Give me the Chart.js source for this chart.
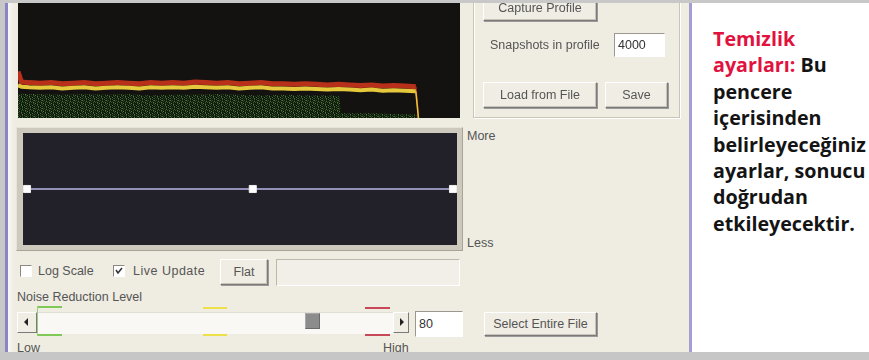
<!DOCTYPE html>
<html><head><meta charset="utf-8">
<script src="https://cdn.jsdelivr.net/npm/chart.js@4/dist/chart.umd.min.js"></script>
<style>
html,body{margin:0;padding:0;}
body{width:869px;height:360px;overflow:hidden;position:relative;background:#fff;font-family:'Liberation Sans',Arial,sans-serif;}
.abs{position:absolute;}
#ui{position:absolute;left:0;top:0;width:690px;height:360px;background:#efece2;filter:blur(0.5px);}
.t{position:absolute;font-size:12.5px;line-height:14px;color:#555;white-space:nowrap;}
.btn{position:absolute;box-sizing:border-box;background:#f0ede4;border:1px solid;border-color:#fff #7a7a7a #7a7a7a #fff;box-shadow:1px 1px 0 #9a9a9a, inset -1px -1px 0 #c8c4b8;font-size:12.5px;color:#555;text-align:center;white-space:nowrap;}
.sunk{position:absolute;box-sizing:border-box;border:1px solid;border-color:#9a9890 #fff #fff #9a9890;background:#fff;}
.cb{position:absolute;width:12px;height:12px;box-sizing:border-box;border:1px solid;border-color:#8a8880 #fff #fff #8a8880;background:#fff;}
#caption{position:absolute;left:713px;top:26px;font-family:'Open Sans',sans-serif;font-weight:700;font-size:19.7px;line-height:26.4px;color:#141414;white-space:nowrap;}
#caption .r{color:#e2123e;}
</style></head>
<body>
<div id="ui">
  <div class="abs" style="left:0;top:0;width:5px;height:360px;background:#c8c8c8"></div>
  <div class="abs" style="left:5px;top:0;width:3px;height:360px;background:#8a86c2"></div>
  <div class="abs" style="left:8px;top:0;width:6px;height:360px;background:linear-gradient(90deg,#f8f8fa,#efece2)"></div>

  <!-- spectrum panel -->
  <div class="abs" style="left:18px;top:2px;width:442px;height:116px;background:#141210"></div>
  <canvas id="spec" class="abs" width="442" height="116" style="left:18px;top:2px;width:442px;height:116px"></canvas>

  <!-- curve panel -->
  <div class="abs" style="left:16px;top:127px;width:447px;height:124px;box-sizing:border-box;background:#cdc9bc;border:1px solid;border-color:#e6e3da #a8a498 #a8a498 #e6e3da"></div>
  <div class="abs" style="left:23px;top:133px;width:434px;height:112px;background:#222028"></div>
  <canvas id="curve" class="abs" width="434" height="112" style="left:23px;top:133px;width:434px;height:112px"></canvas>
  <div class="t" style="left:467px;top:129px">More</div>
  <div class="t" style="left:467px;top:236px">Less</div>

  <!-- group box -->
  <div class="abs" style="left:473px;top:-10px;width:207px;height:128px;box-sizing:border-box;border:1px solid #c9c5b8;box-shadow:1px 1px 0 #fff, inset 1px 1px 0 #fff"></div>
  <div class="btn" style="left:483px;top:-4px;width:114px;height:25px;line-height:23px">Capture Profile</div>
  <div class="t" style="left:490px;top:38px">Snapshots in profile</div>
  <div class="sunk" style="left:614px;top:33px;width:51px;height:24px"></div>
  <div class="t" style="left:618px;top:38px;color:#333">4000</div>
  <div class="btn" style="left:483px;top:82px;width:114px;height:26px;line-height:24px">Load from File</div>
  <div class="btn" style="left:605px;top:82px;width:63px;height:26px;line-height:24px">Save</div>

  <!-- controls row -->
  <div class="cb" style="left:20px;top:265px"></div>
  <div class="t" style="left:38px;top:264px">Log Scale</div>
  <div class="cb" style="left:113px;top:265px"><svg width="10" height="10" style="position:absolute;left:0;top:0"><polyline points="2,4 4,7 8,2" fill="none" stroke="#333" stroke-width="1.6"/></svg></div>
  <div class="t" style="left:133px;top:264px;letter-spacing:0.5px">Live Update</div>
  <div class="btn" style="left:220px;top:259px;width:48px;height:26px;line-height:24px">Flat</div>
  <div class="abs" style="left:276px;top:259px;width:184px;height:27px;box-sizing:border-box;border:1px solid;border-color:#bcb8ac #fff #fff #bcb8ac;background:#f1efe8"></div>
  <div class="t" style="left:17px;top:290px">Noise Reduction Level</div>

  <!-- slider -->
  <div class="abs" style="left:37px;top:312px;width:357px;height:21px;background:#f9f8f4;border-top:1px solid #e0ddd4"></div>
  <div class="btn" style="left:17px;top:312px;width:20px;height:21px;box-shadow:none"></div>
  <svg class="abs" style="left:22px;top:318px" width="8" height="8"><polygon points="6,0 6,8 2,4" fill="#222"/></svg>
  <div class="btn" style="left:393px;top:312px;width:16px;height:21px;box-shadow:none"></div>
  <svg class="abs" style="left:398px;top:318px" width="8" height="8"><polygon points="2,0 2,8 6,4" fill="#222"/></svg>
  <div class="abs" style="left:305px;top:313px;width:15px;height:16px;box-sizing:border-box;background:#8c8c8c;border:1px solid;border-color:#a8a8a8 #6a6a6a #6a6a6a #a8a8a8"></div>
  <div class="abs" style="left:38px;top:306px;width:24px;height:2px;background:#80c858"></div>
  <div class="abs" style="left:38px;top:334px;width:24px;height:2px;background:#80c858"></div>
  <div class="abs" style="left:37px;top:306px;width:1px;height:30px;background:#9ccc80"></div>
  <div class="abs" style="left:203px;top:307px;width:24px;height:2px;background:#eee048"></div>
  <div class="abs" style="left:203px;top:334px;width:24px;height:2px;background:#eee048"></div>
  <div class="abs" style="left:365px;top:307px;width:25px;height:2px;background:#c8485a"></div>
  <div class="abs" style="left:365px;top:334px;width:25px;height:2px;background:#c8485a"></div>
  <div class="sunk" style="left:415px;top:311px;width:48px;height:26px"></div>
  <div class="t" style="left:419px;top:317px;color:#333">80</div>
  <div class="btn" style="left:484px;top:312px;width:113px;height:24px;line-height:22px">Select Entire File</div>
  <div class="t" style="left:17px;top:341px">Low</div>
  <div class="t" style="left:383px;top:341px">High</div>
</div>

<div class="abs" style="left:689px;top:0;width:3px;height:360px;background:#a49ed2"></div>
<div class="abs" style="left:0;top:0;width:869px;height:3px;background:#c8c8c8"></div>
<div class="abs" style="left:0;top:352px;width:869px;height:8px;background:#c6c6c6"></div>

<div id="caption"><span class="r">Temizlik</span><br><span class="r">ayarları:</span> Bu<br>pencere<br>içerisinden<br>belirleyeceğiniz<br>ayarlar, sonucu<br>doğrudan<br>etkileyecektir.</div>

<script>
// ---- data ----
const specBins    = [0, 0.8, 2.5, 5, 7.5, 10, 12.5, 15, 17.5, 20, 22.5, 25, 27.5, 30, 32.5, 35, 37.5, 40, 42.5, 45, 47.5, 50, 52.5, 55, 57.5, 60, 62.5, 65, 67.5, 70, 72.5, 75, 77.5, 80, 82.5, 85, 87.5, 90, 90.6];
const redLevel    = [40, 31, 30.5, 30, 30.5, 29.5, 30, 30.5, 29.5, 30, 30.5, 30, 29.5, 30.5, 30, 30.5, 30, 31, 30.5, 30, 30.5, 29.5, 30, 30.5, 29.5, 29.5, 29, 29.5, 29, 28.5, 29, 28.5, 28, 28.5, 27.5, 28, 27.5, 27, 0];
const yellowLevel = [28, 27, 26.5, 26, 26.5, 25.5, 26, 26.5, 25.5, 26, 26.5, 26, 25.5, 26.5, 26, 26.5, 26, 27, 26.5, 26, 26.5, 25.5, 26, 26.5, 25.5, 25.5, 25, 25.5, 25, 24.5, 25, 24.5, 24, 24.5, 23.5, 24, 23.5, 23, 0];
const greenBins   = [0, 5, 10, 15, 20, 25, 30, 35, 40, 45, 50, 55, 60, 65, 70, 72.8, 73, 80, 85, 90, 90.6];
const greenLevel  = [21, 20.5, 20, 20.5, 20, 20.5, 19.5, 20, 20, 20.5, 20, 19.5, 20, 19.5, 19.5, 19, 4, 4, 3.5, 3, 0];
const curveX      = [0, 0.53, 1];
const curveY      = [0, 0, 0];

function toPts(xs, ys){ return xs.map((x,i)=>({x:x, y:ys[i]})); }

function greenPattern(ctx){
  const tile = ["g.d.G..d",
                ".d..g.g.",
                "G.g.d..g",
                ".g..G.d.",
                "d..g.g.G",
                ".G.d...g",
                "g..G.d..",
                ".d.g..G."];
  const cols = {g:'#305a24', G:'#4a7c34', d:'#1e3817'};
  const c = document.createElement('canvas'); c.width = 8; c.height = 8;
  const x = c.getContext('2d');
  x.fillStyle = '#121610'; x.fillRect(0,0,8,8);
  tile.forEach((row,j)=>{ [...row].forEach((ch,i)=>{ if(cols[ch]){ x.fillStyle = cols[ch]; x.fillRect(i,j,1,1);} }); });
  return ctx.createPattern(c,'repeat');
}

const baseOpts = {
  responsive:false, animation:false, events:[],
  plugins:{legend:{display:false}, tooltip:{enabled:false}},
};
const lastSeg = (n, thin, thick) => (c => c.p1DataIndex === n - 1 ? thin : thick);

const sctx = document.getElementById('spec').getContext('2d');
new Chart(sctx, {
  type:'line',
  data:{datasets:[
    {data:toPts(specBins, yellowLevel), borderColor:'#e6c83c', borderWidth:4, pointRadius:0, tension:0, fill:false, order:1,
     segment:{borderWidth:lastSeg(specBins.length, 1.5, 4)}},
    {data:toPts(specBins, redLevel), borderColor:'#b8301a', borderWidth:5, pointRadius:0, tension:0, fill:false, order:2,
     segment:{borderWidth:lastSeg(specBins.length, 1.5, 5)}},
    {data:toPts(greenBins, greenLevel), borderColor:'rgba(0,0,0,0)', borderWidth:0, pointRadius:0, tension:0, fill:'origin', backgroundColor:greenPattern(sctx), order:3}
  ]},
  options:Object.assign({}, baseOpts, {
    layout:{padding:0, autoPadding:false},
    scales:{x:{type:'linear', display:false, min:0, max:100}, y:{display:false, min:0, max:100}}
  })
});

new Chart(document.getElementById('curve'), {
  type:'line',
  data:{datasets:[
    {data:toPts(curveX, curveY), clip:false, borderColor:'#9290b8', borderWidth:2, pointStyle:'rect', pointRadius:5, pointBackgroundColor:'#ffffff', pointBorderColor:'#f0f0f0', pointBorderWidth:1, tension:0}
  ]},
  options:Object.assign({}, baseOpts, {
    layout:{padding:{left:4, right:4, top:0, bottom:0}, autoPadding:false},
    scales:{x:{type:'linear', display:false, min:0, max:1}, y:{display:false, min:-1, max:1}}
  })
});
</script>
</body></html>
